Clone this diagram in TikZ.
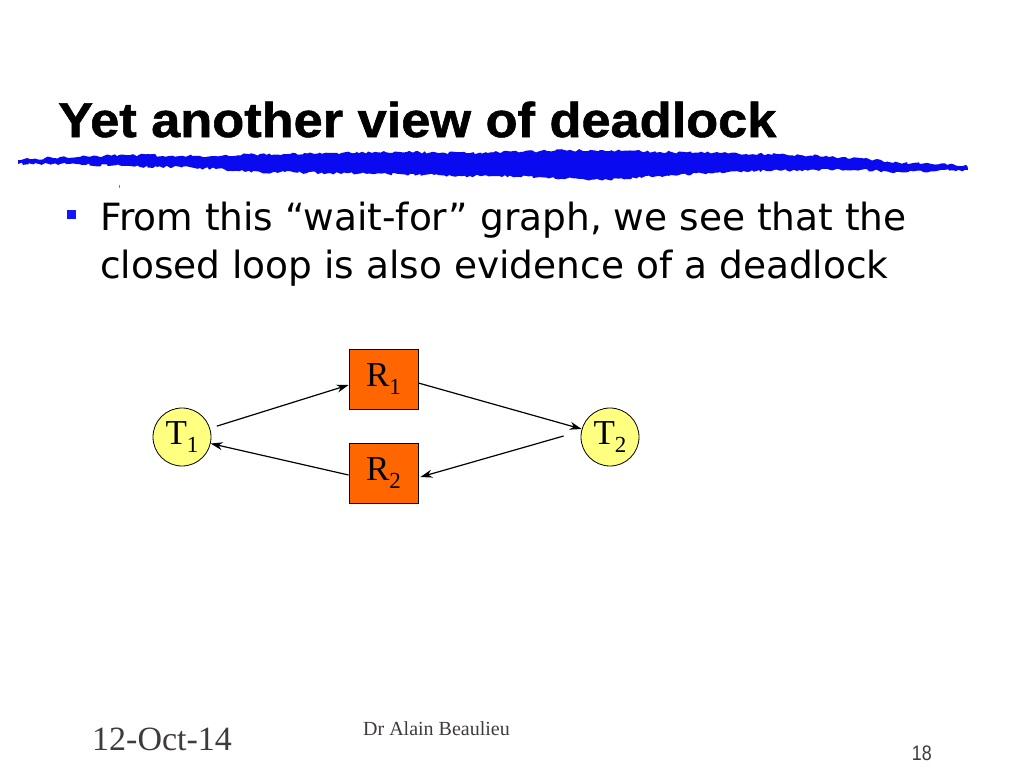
\documentclass[tikz,border=0pt]{standalone}
\usepackage{fontspec}
\setmainfont{Liberation Serif}
\newfontfamily\titlefont[BoldFeatures={FakeBold=1.1}]{Liberation Sans}
\newfontfamily\sansfont{Liberation Sans}
\newfontfamily\bodyfont{DejaVu Sans}
\usetikzlibrary{arrows.meta,calc,decorations.pathmorphing}
\definecolor{scribble}{RGB}{10,10,240}
\definecolor{bulletblue}{RGB}{20,20,255}
\definecolor{tyellow}{RGB}{255,255,128}
\definecolor{rorange}{RGB}{255,102,0}
\definecolor{footgray}{RGB}{64,58,58}
\tikzset{
  taskcircle/.style={circle,draw=black,line width=0.8pt,fill=tyellow,minimum size=58pt,inner sep=0pt,font=\fontsize{35}{35}\selectfont},
  resbox/.style={rectangle,draw=black,line width=0.8pt,fill=rorange,minimum width=69pt,minimum height=60pt,inner sep=0pt,font=\fontsize{35}{35}\selectfont},
  arr/.style={-{Stealth[length=12pt,width=8pt]},line width=1.2pt,black},
  bodytext/.style={anchor=base west,inner sep=0pt,font=\bodyfont\fontsize{37.5}{45}\selectfont},
  foottext/.style={inner sep=0pt,text=footgray}
}
\newcommand{\sbs}[1]{\raisebox{-0.22em}{\fontsize{23}{23}\selectfont #1}}
\begin{document}
\begin{tikzpicture}[x=1pt,y=-1pt]
\useasboundingbox (0,0) rectangle (1024,768);
\fill[white] (0,0) rectangle (1024,768);
% title
\node[anchor=base west,inner sep=0pt,font=\titlefont\bfseries\fontsize{48}{48}\selectfont] (title) at (58,137) {\scalebox{1.09}[1.02]{Yet another view of deadlock}};
% scribble underline
\fill[scribble,decorate,decoration={random steps,segment length=3pt,amplitude=1.4pt}]
  (18,160) -- (60,157) -- (130,155) -- (200,156) -- (260,154) -- (330,153) -- (400,152) -- (470,153) -- (540,151) -- (600,150) -- (660,152) -- (720,153) -- (800,155) -- (860,158) -- (900,163) -- (966,165)
  -- (968,170) -- (900,172) -- (860,170) -- (800,170) -- (720,172) -- (660,176) -- (600,180) -- (540,177) -- (470,176) -- (400,174) -- (330,173) -- (260,172) -- (200,168) -- (130,166) -- (60,164) -- (18,164) -- cycle;
% small mark
\draw[gray,line width=0.6pt] (119,185) -- (119,188);
% bullet
\fill[bulletblue] (67,210) rectangle (76,219);
\node[bodytext] (line1) at (100,230) {From this “wait-for” graph, we see that the};
\node[bodytext] (line2) at (100,278) {closed loop is also evidence of a deadlock};
% graph
\node[taskcircle] (t1) at (182,437) {T\sbs{1}};
\node[taskcircle] (t2) at (610,437) {T\sbs{2}};
\node[resbox] (r1) at (383.5,379) {R\sbs{1}};
\node[resbox] (r2) at (383.5,473) {R\sbs{2}};
\draw[arr,shorten <=7pt] (t1) -- ($(r1.west)+(0,6)$);
\draw[arr] ($(r1.east)+(0,4)$) -- (t2);
\draw[arr] ($(t2.west)+(-17,-1)$) -- ($(r2.east)+(2,4)$);
\draw[arr] ($(r2.west)+(0,2)$) -- (t1);
% footer
\node[foottext,anchor=base west,font=\fontsize{34}{34}\selectfont] (date) at (92,750) {12-Oct-14};
\node[foottext,anchor=base west,font=\fontsize{20}{20}\selectfont] (author) at (363,735) {Dr Alain Beaulieu};
\node[foottext,anchor=base east,font=\sansfont\fontsize{21}{21}\selectfont] (page) at (932,760) {\scalebox{0.85}[1]{18}};
\end{tikzpicture}
\end{document}
